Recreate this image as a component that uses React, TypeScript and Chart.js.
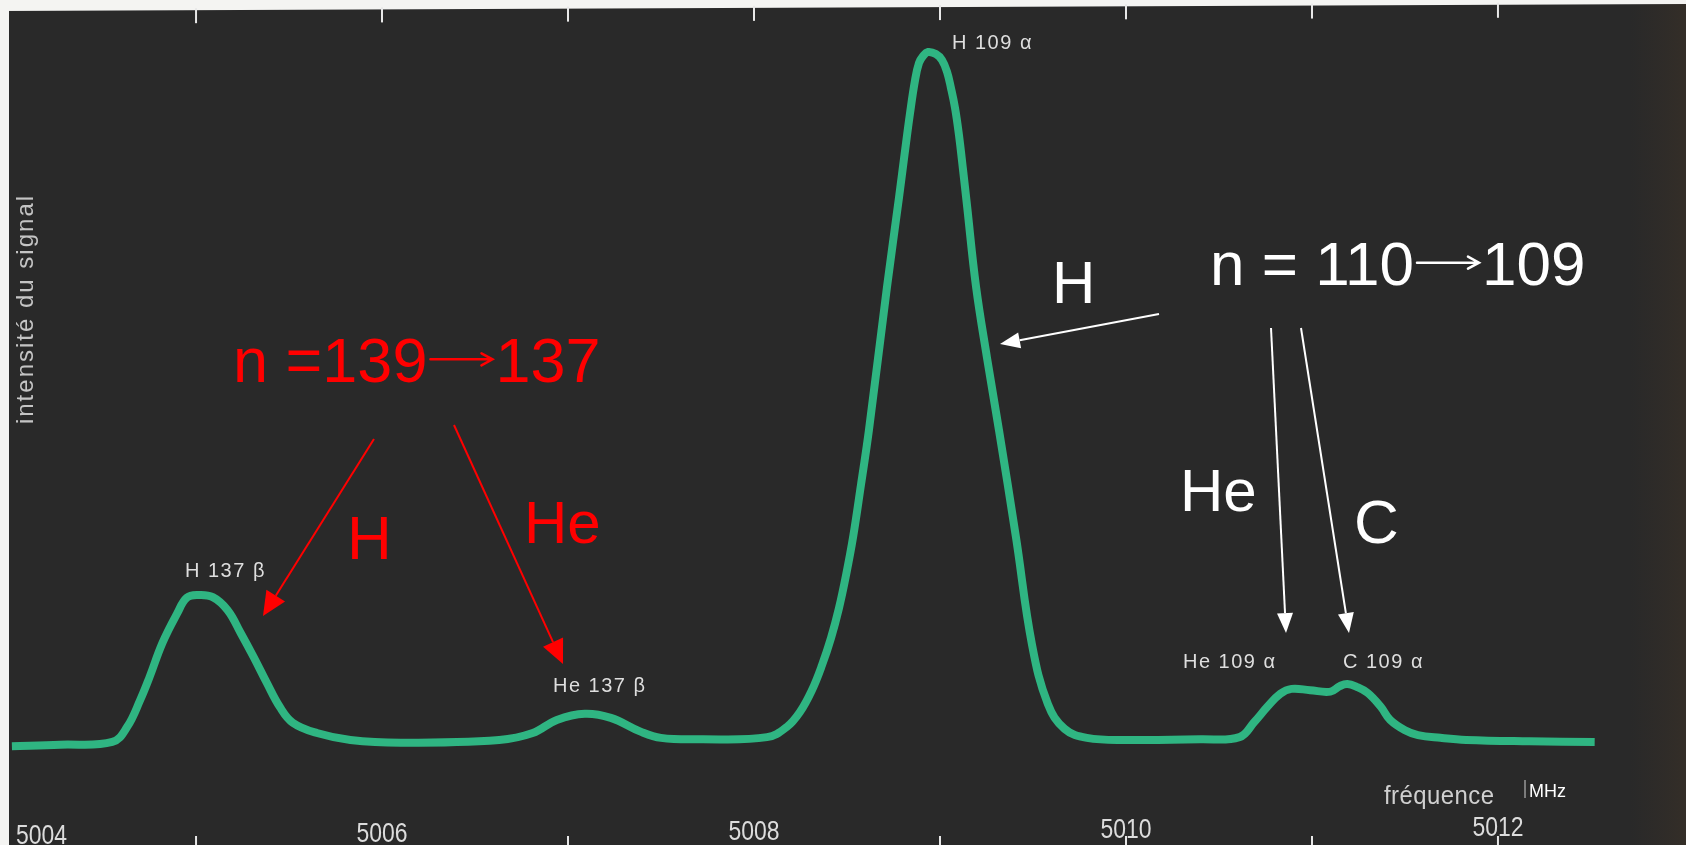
import React, { useEffect, useRef } from "react";
import { Chart, registerables } from "chart.js";

Chart.register(...registerables);

// ---- data (MHz, arbitrary signal intensity) ----
const freq = [5004.01, 5004.27, 5004.55, 5004.63, 5004.70, 5004.75, 5004.82, 5004.90, 5004.95, 5005.01, 5005.09, 5005.17, 5005.24, 5005.31, 5005.38, 5005.45, 5005.52, 5005.65, 5005.83, 5006.10, 5006.63, 5006.81, 5006.94, 5007.09, 5007.23, 5007.39, 5007.50, 5007.71, 5008.07, 5008.177, 5008.247, 5008.312, 5008.366, 5008.414, 5008.457, 5008.495, 5008.532, 5008.575, 5008.618, 5008.715, 5008.780, 5008.809, 5008.839, 5008.866, 5008.887, 5008.909, 5008.935, 5008.978, 5009.011, 5009.038, 5009.059, 5009.081, 5009.102, 5009.124, 5009.145, 5009.194, 5009.253, 5009.317, 5009.409, 5009.495, 5009.58, 5009.67, 5009.79, 5010.02, 5010.40, 5010.61, 5010.69, 5010.76, 5010.83, 5010.89, 5010.99, 5011.10, 5011.15, 5011.19, 5011.24, 5011.30, 5011.37, 5011.42, 5011.50, 5011.57, 5011.69, 5011.83, 5012.17, 5012.52];
const intensity = [-0.6, -0.4, 0, 2.2, 6.1, 9.4, 14.4, 18.7, 20.9, 21.3, 21.0, 19.1, 15.8, 12.3, 8.6, 5.1, 2.8, 1.3, 0.3, -0.1, 0.3, 1.3, 3.2, 4.1, 3.5, 1.5, 0.6, 0.4, 0.7, 2.2, 4.35, 7.54, 11.16, 15.07, 19.42, 24.2, 29.57, 37.25, 45.22, 65.94, 78.99, 85.07, 91.16, 95.94, 98.41, 99.42, 100, 99.71, 98.84, 97.1, 94.78, 91.88, 87.97, 82.9, 77.83, 65.94, 55.65, 45.22, 29.57, 14.06, 5.5, 1.9, 0.6, 0.3, 0.4, 0.7, 2.9, 5.1, 7.0, 7.7, 7.5, 7.3, 8.1, 8.4, 8.0, 7.1, 5.1, 3.2, 1.7, 1.0, 0.6, 0.3, 0.1, 0];

const tickLabels = [5004, 5006, 5008, 5010, 5012];
const topTicks = [5005, 5006, 5007, 5008, 5009, 5010, 5011, 5012];
const bottomTicks = [5005, 5007, 5009, 5010, 5011, 5012];

const xAxisTitle = "fréquence";
const xAxisUnit = "MHz";
const yAxisTitle = "intensité du signal";

const peakLabels = ["H 137 β", "He 137 β", "H 109 α", "He 109 α", "C 109 α"];

const W = 1686;
const H = 845;
const X_MIN = 5003.946;
const X_MAX = 5013.011;
const Y_MIN = -14.93;
const Y_MAX = 107.54;

const SANS = '"Liberation Sans", Arial, "DejaVu Sans", sans-serif';

function text(ctx: CanvasRenderingContext2D, s: string, x: number, y: number, font: string, color: string, align: CanvasTextAlign = "left", scaleX = 1, spacing = 0) {
  ctx.save();
  ctx.font = font;
  ctx.fillStyle = color;
  ctx.textAlign = align;
  ctx.textBaseline = "alphabetic";
  (ctx as any).letterSpacing = spacing + "px";
  ctx.translate(x, y);
  ctx.scale(scaleX, 1);
  ctx.fillText(s, 0, 0);
  ctx.restore();
}

function arrow(ctx: CanvasRenderingContext2D, x1: number, y1: number, x2: number, y2: number, color: string, lw: number, hl: number, hw: number) {
  const a = Math.atan2(y2 - y1, x2 - x1);
  const bx = x2 - hl * Math.cos(a);
  const by = y2 - hl * Math.sin(a);
  ctx.save();
  ctx.strokeStyle = color;
  ctx.fillStyle = color;
  ctx.lineWidth = lw;
  ctx.beginPath();
  ctx.moveTo(x1, y1);
  ctx.lineTo(bx, by);
  ctx.stroke();
  ctx.beginPath();
  ctx.moveTo(x2, y2);
  ctx.lineTo(bx + (hw / 2) * Math.sin(a), by - (hw / 2) * Math.cos(a));
  ctx.lineTo(bx - (hw / 2) * Math.sin(a), by + (hw / 2) * Math.cos(a));
  ctx.closePath();
  ctx.fill();
  ctx.restore();
}

// "n = a→b" with a long thin arrow
function reaction(ctx: CanvasRenderingContext2D, left: number, base: number, size: number, pre: string, post: string, arrowLen: number, color: string) {
  const font = size + "px " + SANS;
  ctx.save();
  ctx.font = font;
  const w = ctx.measureText(pre).width;
  ctx.restore();
  text(ctx, pre, left, base, font, color);
  const ay = base - size * 0.36;
  const x1 = left + w + 3;
  const x2 = x1 + arrowLen;
  ctx.save();
  ctx.strokeStyle = color;
  ctx.lineWidth = 2.5;
  ctx.lineCap = "round";
  ctx.beginPath();
  ctx.moveTo(x1, ay);
  ctx.lineTo(x2, ay);
  ctx.moveTo(x2 - 11, ay - 6);
  ctx.lineTo(x2, ay);
  ctx.lineTo(x2 - 11, ay + 6);
  ctx.stroke();
  ctx.restore();
  text(ctx, post, x2 + 3, base, font, color);
}

const backgroundPlugin = {
  id: "photoBackground",
  beforeDraw(chart: any) {
    const ctx: CanvasRenderingContext2D = chart.ctx;
    ctx.save();
    ctx.fillStyle = "#292929";
    ctx.fillRect(0, 0, W, H);
    const g = ctx.createLinearGradient(1630, 0, W, 0);
    g.addColorStop(0, "rgba(50,45,40,0)");
    g.addColorStop(1, "rgba(52,46,40,1)");
    ctx.fillStyle = g;
    ctx.fillRect(1630, 0, W - 1630, H);
    ctx.restore();
  },
};

const overlayPlugin = {
  id: "overlay",
  afterDraw(chart: any) {
    const ctx: CanvasRenderingContext2D = chart.ctx;
    const xs = chart.scales.x;
    // white paper edges
    ctx.save();
    ctx.fillStyle = "#f4f4f2";
    ctx.beginPath();
    ctx.moveTo(0, 0);
    ctx.lineTo(W, 0);
    ctx.lineTo(W, 4);
    ctx.lineTo(0, 11);
    ctx.closePath();
    ctx.fill();
    ctx.fillRect(0, 0, 9, H);
    // tick marks
    ctx.strokeStyle = "#e8e8e8";
    ctx.lineWidth = 2;
    topTicks.forEach((v) => {
      const px = xs.getPixelForValue(v);
      const top = 11 - (px / W) * 7;
      ctx.beginPath();
      ctx.moveTo(px, top - 2);
      ctx.lineTo(px, top + 13);
      ctx.stroke();
    });
    bottomTicks.forEach((v) => {
      const px = xs.getPixelForValue(v);
      ctx.beginPath();
      ctx.moveTo(px, H - 9);
      ctx.lineTo(px, H);
      ctx.stroke();
    });
    ctx.restore();

    // tick labels
    tickLabels.forEach((v) => {
      const px = xs.getPixelForValue(v);
      ctx.save();
      ctx.font = "28px " + SANS;
      const w = ctx.measureText(String(v)).width * 0.82;
      ctx.restore();
      const left = Math.max(px - w / 2, 16);
      const base = 844 - (px / W) * 9;
      text(ctx, String(v), left, base, "28px " + SANS, "#dcdcdc", "left", 0.82);
    });

    text(ctx, xAxisTitle, 1384, 804, "26px " + SANS, "#cfcfcf", "left", 0.92, 0.5);
    text(ctx, xAxisUnit, 1529, 797, "18px " + SANS, "#ffffff");
    ctx.save();
    ctx.strokeStyle = "#cfcfcf";
    ctx.lineWidth = 1;
    ctx.beginPath();
    ctx.moveTo(1525, 780);
    ctx.lineTo(1525, 798);
    ctx.stroke();
    ctx.restore();

    // vertical axis title
    ctx.save();
    ctx.translate(33, 309);
    ctx.rotate(-Math.PI / 2);
    ctx.font = "24px " + SANS;
    (ctx as any).letterSpacing = "2px";
    ctx.fillStyle = "#c4c4c4";
    ctx.textAlign = "center";
    ctx.textBaseline = "alphabetic";
    ctx.fillText(yAxisTitle, 0, 0);
    ctx.restore();

    // peak labels from the original print
    const pf = "20px " + SANS;
    const pc = "#dedede";
    text(ctx, peakLabels[0], 185, 577, pf, pc, "left", 1, 1.5);
    text(ctx, peakLabels[1], 553, 692, pf, pc, "left", 1, 1.5);
    text(ctx, peakLabels[2], 952, 49, pf, pc, "left", 1, 1.5);
    text(ctx, peakLabels[3], 1183, 668, pf, pc, "left", 1, 1.5);
    text(ctx, peakLabels[4], 1343, 668, pf, pc, "left", 1, 1.5);

    // red annotations
    const red = "#ff0000";
    reaction(ctx, 233, 382, 63, "n =139", "137", 62, red);
    text(ctx, "H", 347, 559, "62px " + SANS, red);
    text(ctx, "He", 524, 543, "60px " + SANS, red);
    arrow(ctx, 374, 439, 263, 616, red, 2, 24, 22);
    arrow(ctx, 454, 425, 563, 664, red, 2, 24, 22);

    // white annotations
    const wh = "#ffffff";
    reaction(ctx, 1210, 285, 62, "n = 110", "109", 62, wh);
    text(ctx, "H", 1052, 303, "60px " + SANS, wh);
    text(ctx, "He", 1180, 511, "60px " + SANS, wh);
    text(ctx, "C", 1354, 543, "62px " + SANS, wh);
    arrow(ctx, 1159, 314, 1000, 344, wh, 2, 20, 16);
    arrow(ctx, 1271, 328, 1286, 633, wh, 2, 20, 16);
    arrow(ctx, 1301, 328, 1349, 633, wh, 2, 20, 16);
  },
};

export default function App() {
  const ref = useRef<HTMLCanvasElement | null>(null);
  useEffect(() => {
    if (!ref.current) return;
    const chart = new Chart(ref.current, {
      type: "line",
      data: {
        datasets: [
          {
            data: freq.map((f, i) => ({ x: f, y: intensity[i] })),
            borderColor: "#2fb582",
            borderWidth: 8,
            pointRadius: 0,
            tension: 0.4,
            borderCapStyle: "butt",
            borderJoinStyle: "round",
            fill: false,
          },
        ],
      },
      options: {
        responsive: false,
        animation: false,
        layout: { padding: 0 },
        plugins: { legend: { display: false }, tooltip: { enabled: false } },
        scales: {
          x: { type: "linear", min: X_MIN, max: X_MAX, display: false },
          y: { type: "linear", min: Y_MIN, max: Y_MAX, display: false },
        },
      },
      plugins: [backgroundPlugin, overlayPlugin],
    } as any);
    return () => chart.destroy();
  }, []);
  return (
    <div style={{ position: "fixed", left: 0, top: 0, width: W, height: H, overflow: "hidden" }}>
      <canvas ref={ref} width={W} height={H} style={{ width: W, height: H, display: "block" }} />
    </div>
  );
}
